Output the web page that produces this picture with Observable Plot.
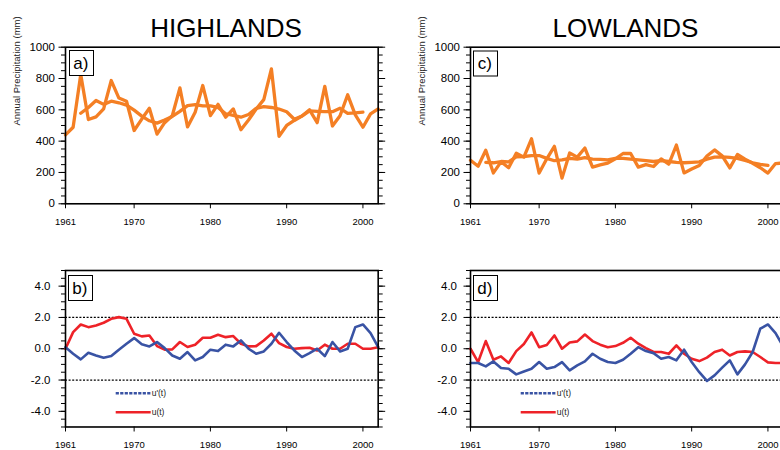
<!DOCTYPE html>
<html>
<head>
<meta charset="utf-8">
<script src="https://cdn.jsdelivr.net/npm/d3@7"></script>
<script src="https://cdn.jsdelivr.net/npm/@observablehq/plot@0.6"></script>
<style>
  html, body { margin: 0; padding: 0; background: #fff; }
  #root { position: relative; width: 780px; height: 450px; overflow: hidden; background: #fff;
          font-family: "Liberation Sans", Arial, Helvetica, sans-serif; }
  #root > svg { position: absolute; }
  #overlay { left: 0; top: 0; pointer-events: none; }
</style>
</head>
<body>
<div id="root"></div>
<script>
// ---------- data ----------
const years = [1961,1962,1963,1964,1965,1966,1967,1968,1969,1970,1971,1972,1973,1974,1975,1976,1977,1978,1979,1980,1981,
               1982,1983,1984,1985,1986,1987,1988,1989,1990,1991,1992,1993,1994,1995,1996,1997,1998,1999,2000,2001,2002];
const smoothYears = [1963,1964,1965,1966,1967,1968,1969,1970,1971,1972,1973,1974,1975,1976,1977,1978,1979,1980,1981,
               1982,1983,1984,1985,1986,1987,1988,1989,1990,1991,1992,1993,1994,1995,1996,1997,1998,1999,2000];

// HIGHLANDS annual precipitation (mm)
const hiAnnual = [440,489,825,538,555,606,787,675,655,468,541,610,445,518,562,740,491,585,755,563,635,
                  553,606,473,535,605,665,861,431,500,532,560,600,518,750,497,562,696,568,489,574,606];
// HIGHLANDS smoothed precipitation (mm)
const hiSmooth = [578,615,660,635,655,645,630,598,560,530,515,535,558,590,627,633,625,625,615,
                  575,565,553,570,610,620,615,605,588,540,560,593,590,588,588,610,578,580,585];
// LOWLANDS annual precipitation (mm)
const loAnnual = [278,240,342,197,268,230,323,298,415,196,287,367,164,324,298,356,234,248,260,287,321,
                  321,234,250,238,287,253,375,197,222,245,305,344,306,229,315,285,259,230,196,257,260];
// LOWLANDS smoothed precipitation (mm)
const loSmooth = [265,262,270,268,300,302,307,308,290,275,280,290,285,295,285,283,280,290,290,
                  285,280,275,270,276,270,265,262,265,268,285,298,300,296,290,277,262,252,245];

// Mann-Kendall statistics, HIGHLANDS
const hiU  = [0,1.06,1.55,1.38,1.49,1.66,1.91,2.02,1.91,0.96,0.79,0.85,0.17,-0.06,-0.04,0.43,0.11,0.26,0.70,0.70,0.89,
              0.74,0.81,0.32,0.15,0.17,0.53,0.96,0.36,0.11,0.0,0.04,0.06,-0.11,0.26,0.0,0.0,0.32,0.32,0.0,0.0,0.10];
const hiUb = [0.1,-0.32,-0.68,-0.26,-0.43,-0.57,-0.47,-0.06,0.32,0.68,0.28,0.15,0.43,0.04,-0.43,-0.64,-0.21,-0.74,-0.53,-0.06,-0.15,
              0.26,0.15,0.53,0.0,-0.32,-0.17,0.32,1.02,0.43,-0.11,-0.53,-0.28,0.0,-0.47,0.43,-0.17,0.0,1.38,1.55,1.0,0.1];
// Mann-Kendall statistics, LOWLANDS
const loU  = [0,-0.85,0.49,-0.70,-0.49,-0.91,-0.15,0.30,1.04,0.10,0.24,0.85,0.0,0.40,0.47,0.91,0.49,0.26,0.10,0.17,0.38,
              0.70,0.32,0.04,-0.21,-0.21,-0.32,0.21,-0.32,-0.64,-0.79,-0.57,-0.21,-0.06,-0.43,-0.21,-0.17,-0.21,-0.53,-0.87,-0.91,-0.91];
const loUb = [-0.91,-0.91,-1.13,-0.81,-1.23,-1.28,-1.64,-1.45,-1.28,-0.85,-1.28,-1.17,-0.85,-1.38,-1.06,-0.81,-0.32,-0.64,-0.85,-0.91,-0.70,
              -0.32,0.10,-0.15,-0.28,-0.64,-0.53,-0.74,-0.06,-0.85,-1.50,-2.06,-1.70,-1.21,-0.74,-1.64,-1.00,-0.21,1.28,1.55,1.00,0.15];

const thresholds = [2, -2];
const xTicks = [1961, 1970, 1980, 1990, 2000];
const precipTicks = [0, 200, 400, 600, 800, 1000];
const statTicks = [-4, -2, 0, 2, 4];
const titles = ["HIGHLANDS", "LOWLANDS"];
const tags = ["a)", "b)", "c)", "d)"];
const legendLabels = ["u'(t)", "u(t)"];
const yLabel = "Annual Precipitation (mm)";

// ---------- styling ----------
const FONT = '"Liberation Sans", Arial, Helvetica, sans-serif';
const ORANGE = "#f47f24", RED = "#ee2228", BLUE = "#3953a4";
const PLOT_W = 312.7;
const precipMinor = d3.range(0, 1001, 50);
const statMinor = d3.range(-5, 5.001, 0.5);

function yAxes(major, minor, fmt, pad, fs) {
  return [
    Plot.axisY(minor, {tickSize: 4, tickFormat: () => "", label: null}),
    Plot.axisY(major, {tickSize: 6.5, tickPadding: pad, tickFormat: fmt, fontSize: fs, label: null}),
    Plot.axisY(minor, {anchor: "right", tickSize: 4, tickFormat: () => "", label: null}),
    Plot.axisY(major, {anchor: "right", tickSize: 6.5, tickFormat: () => "", label: null})
  ];
}

function topPanel(annual, smooth, ml) {
  const W = ml + PLOT_W + 12, H = 235, mt = 46.7, ph = 156.6;
  const dA = years.map((y, i) => ({year: y, v: annual[i]}));
  const dS = smoothYears.map((y, i) => ({year: y, v: smooth[i]}));
  return Plot.plot({
    width: W, height: H,
    marginLeft: ml, marginRight: W - ml - PLOT_W, marginTop: mt, marginBottom: H - mt - ph,
    style: {fontFamily: FONT, background: "transparent", color: "black"},
    x: {domain: [1961, 2002]},
    y: {domain: [0, 1000]},
    marks: [
      ...yAxes(precipTicks, precipMinor, d => String(d), 4, 11.5),
      Plot.axisX(xTicks, {tickSize: 5, tickPadding: 9, tickFormat: d => String(d), fontSize: 9.5, label: null}),
      Plot.line(dS, {x: "year", y: "v", stroke: ORANGE, strokeWidth: 3.3}),
      Plot.line(dA, {x: "year", y: "v", stroke: ORANGE, strokeWidth: 3.3}),
      Plot.frame({stroke: "black", strokeWidth: 1.6}),
      Plot.text([yLabel], {frameAnchor: "left", dx: -49, rotate: -90, fontSize: 9.5, text: d => d, fill: "#222"})
    ]
  });
}

function bottomPanel(u, ub, ml, pad) {
  const W = ml + PLOT_W + 12, H = 225, mt = 45, ph = 156.5;
  const dU = years.map((y, i) => ({year: y, v: u[i]}));
  const dB = years.map((y, i) => ({year: y, v: ub[i]}));
  return Plot.plot({
    width: W, height: H,
    marginLeft: ml, marginRight: W - ml - PLOT_W, marginTop: mt, marginBottom: H - mt - ph,
    style: {fontFamily: FONT, background: "transparent", color: "black"},
    x: {domain: [1961, 2002]},
    y: {domain: [-5, 5]},
    marks: [
      ...yAxes(statTicks, statMinor, d => d.toFixed(1), pad, 11.5),
      Plot.axisX(xTicks, {tickSize: 5, tickPadding: 9.3, tickFormat: d => String(d), fontSize: 9.5, label: null}),
      Plot.ruleY(thresholds, {stroke: "black", strokeWidth: 1.2, strokeDasharray: "2,1.6"}),
      Plot.line(dU, {x: "year", y: "v", stroke: RED, strokeWidth: 2.6}),
      Plot.line(dB, {x: "year", y: "v", stroke: BLUE, strokeWidth: 2.6}),
      Plot.frame({stroke: "black", strokeWidth: 1.6})
    ]
  });
}

const root = document.getElementById("root");
function place(svg, left, top) {
  svg.style.left = left + "px";
  svg.style.top = top + "px";
  svg.style.maxWidth = "none";
  svg.style.overflow = "visible";
  root.appendChild(svg);
}
place(topPanel(hiAnnual, hiSmooth, 65), 0, 0);
place(topPanel(loAnnual, loSmooth, 80), 390, 0);
place(bottomPanel(hiU, hiUb, 65, 8.5), 0, 225);
place(bottomPanel(loU, loUb, 80, 7), 390, 225);

// ---------- overlay: titles, panel tags, legends ----------
const NS = "http://www.w3.org/2000/svg";
const ov = document.createElementNS(NS, "svg");
ov.setAttribute("id", "overlay");
ov.setAttribute("width", 780);
ov.setAttribute("height", 450);
ov.style.fontFamily = FONT;
root.appendChild(ov);
function el(tag, attrs, text) {
  const e = document.createElementNS(NS, tag);
  for (const k in attrs) e.setAttribute(k, attrs[k]);
  if (text != null) e.textContent = text;
  ov.appendChild(e);
  return e;
}
el("text", {x: 226, y: 37, "text-anchor": "middle", "font-size": 26, fill: "black"}, titles[0]);
el("text", {x: 625.5, y: 37, "text-anchor": "middle", "font-size": 26, fill: "black"}, titles[1]);

const tagBoxes = [[69.5, 50.5], [68.5, 275.5], [473.5, 51], [473.5, 275.5]];
tags.forEach((t, i) => {
  const [bx, by] = tagBoxes[i];
  el("rect", {x: bx, y: by, width: 24, height: 25, fill: "white", stroke: "black", "stroke-width": 1});
  el("text", {x: bx + 11.3, y: by + 18.3, "text-anchor": "middle", "font-size": 17, fill: "black"}, t);
});

[[115.7, 0], [520.7, 0]].forEach(([lx]) => {
  el("line", {x1: lx, x2: lx + 35, y1: 393.3, y2: 393.3, stroke: BLUE, "stroke-width": 2.6, "stroke-dasharray": "3.2,1.3"});
  el("line", {x1: lx, x2: lx + 35, y1: 412.3, y2: 412.3, stroke: RED, "stroke-width": 2.6});
  el("text", {x: lx + 36, y: 396.2, "font-size": 8.5, fill: "#222"}, legendLabels[0]);
  el("text", {x: lx + 36, y: 415.2, "font-size": 8.5, fill: "#222"}, legendLabels[1]);
});
</script>
</body>
</html>
